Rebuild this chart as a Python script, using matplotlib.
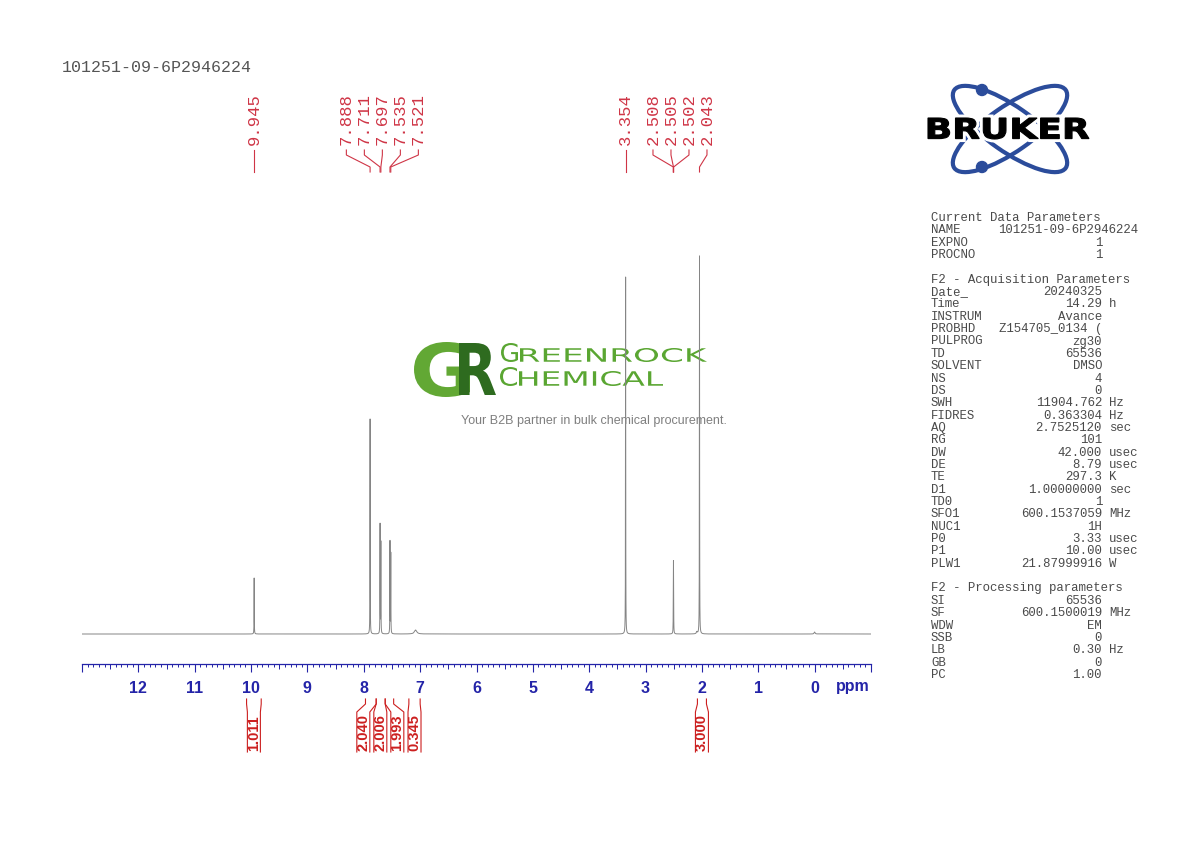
import numpy as np
import matplotlib
matplotlib.use("Agg")
import matplotlib.pyplot as plt
from matplotlib.patches import Ellipse, Circle, PathPatch
from matplotlib.textpath import TextPath
from matplotlib.font_manager import FontProperties
from matplotlib.transforms import Affine2D
from matplotlib.ticker import MultipleLocator, FixedLocator

sample_name = "101251-09-6P2946224"

# peaks: shift (ppm), height above baseline (px), half width (ppm)
peak_ppm = [9.945, 7.888, 7.711, 7.697, 7.535, 7.521, 7.08, 3.354,
            2.508, 2.505, 2.502, 2.043, 2.09, 0.0]
peak_height = [56, 215, 109, 91, 92, 80, 4, 357, 22, 60, 22, 378, 2, 2]
peak_width = [0.002, 0.002, 0.002, 0.002, 0.002, 0.002, 0.025, 0.002,
              0.002, 0.002, 0.002, 0.002, 0.01, 0.01]

# picked peaks (labels on top)
label_ppm = [9.945, 7.888, 7.711, 7.697, 7.535, 7.521, 3.354,
             2.508, 2.505, 2.502, 2.043]

# integrals
int_start = [10.08, 7.97, 7.78, 7.62, 7.20, 2.08]
int_end = [9.82, 7.78, 7.62, 7.47, 7.00, 1.92]
int_value = [1.011, 2.040, 2.006, 1.993, 0.345, 3.000]

tick_ppm = [13, 12, 11, 10, 9, 8, 7, 6, 5, 4, 3, 2, 1, 0, -1]
tick_text = ["", "12", "11", "10", "9", "8", "7", "6", "5", "4", "3", "2", "1", "0", ""]

# parameter panel
cur_names = ["NAME", "EXPNO", "PROCNO"]
cur_values = [sample_name, "1", "1"]
cur_units = ["", "", ""]

acq_names = ["Date_", "Time", "INSTRUM", "PROBHD", "PULPROG", "TD", "SOLVENT",
             "NS", "DS", "SWH", "FIDRES", "AQ", "RG", "DW", "DE", "TE", "D1",
             "TD0", "SFO1", "NUC1", "P0", "P1", "PLW1"]
acq_values = ["20240325", "14.29", "Avance", "Z154705_0134 (", "zg30", "65536",
              "DMSO", "4", "0", "11904.762", "0.363304", "2.7525120", "101",
              "42.000", "8.79", "297.3", "1.00000000", "1", "600.1537059",
              "1H", "3.33", "10.00", "21.87999916"]
acq_units = ["", "h", "", "", "", "", "", "", "", "Hz", "Hz", "sec", "",
             "usec", "usec", "K", "sec", "", "MHz", "", "usec", "usec", "W"]

proc_names = ["SI", "SF", "WDW", "SSB", "LB", "GB", "PC"]
proc_values = ["65536", "600.1500019", "EM", "0", "0.30", "0", "1.00"]
proc_units = ["", "MHz", "", "", "Hz", "", ""]

RED = "#cf3546"
IRED = "#cc1f1f"
BLUE = "#2424a8"
GRAY = "#4a4a4a"

fig = plt.figure(figsize=(11.9, 8.42), dpi=100)

# overlay in pixel coords of the page (y downwards)
ov = fig.add_axes([0, 0, 1, 1], zorder=0)
ov.set_xlim(0, 1190)
ov.set_ylim(842, 0)
ov.axis("off")


def fit_text(s, x0, y0, x1, y1, color, weight="bold", family="DejaVu Sans", **kw):
    """draw text s stretched into the box (x0,y0)-(x1,y1), page pixels"""
    path = TextPath((0, 0), s, size=50, prop=FontProperties(family=family, weight=weight))
    ext = path.get_extents()
    sx = (x1 - x0) / ext.width
    sy = (y1 - y0) / ext.height
    tr = Affine2D().translate(-ext.x0, -ext.y0).scale(sx, -sy).translate(x0, y1)
    p = PathPatch(tr.transform_path(path), fc=color, ec=kw.get("ec", "none"),
                  lw=kw.get("lw", 0), zorder=kw.get("zorder", 2))
    ov.add_patch(p)
    return p


ov.text(62, 68, sample_name, family="Liberation Mono", fontsize=12,
        color="#555555", va="center", ha="left")

# Bruker logo
logo_blue = "#2b4c9b"
for ang in (35, -35):
    ov.add_patch(Ellipse((1010, 129), 136, 45, angle=ang, fill=False,
                         ec=logo_blue, lw=3, zorder=1))
ov.add_patch(Circle((982, 90), 5.5, color=logo_blue, zorder=1))
ov.add_patch(Circle((982, 167), 5.5, color=logo_blue, zorder=1))
fit_text("BRUKER", 928, 118, 1089, 139, "white", ec="white", lw=5, zorder=2)
fit_text("BRUKER", 928, 118, 1089, 139, "black", ec="black", lw=0.8, zorder=3)

# Greenrock watermark
fit_text("G", 414, 342, 470, 397, "#62a834")
fit_text("R", 459, 343, 496, 395, "#2e6b1f")
fit_text("G", 501, 343, 518, 362, "#5aa632", weight="normal")
fit_text("REENROCK", 520, 348, 707, 362, "#5aa632", weight="normal")
fit_text("C", 500, 367, 517, 386, "#5aa632", weight="normal")
fit_text("HEMICAL", 519, 371, 663, 386, "#5aa632", weight="normal")
ov.text(594, 421, "Your B2B partner in bulk chemical procurement.",
        family="Liberation Sans", fontsize=9, color="#7f7f7f",
        ha="center", va="center")

# parameter panel
row_y0, row_dy = 218, 12.35
rows = [("Current Data Parameters", None, None)]
rows += list(zip(cur_names, cur_values, cur_units))
rows += [None, ("F2 - Acquisition Parameters", None, None)]
rows += list(zip(acq_names, acq_values, acq_units))
rows += [None, ("F2 - Processing parameters", None, None)]
rows += list(zip(proc_names, proc_values, proc_units))
mono = dict(family="Liberation Mono", fontsize=8.9, color=GRAY, va="center")
for i, r in enumerate(rows):
    if r is None:
        continue
    y = row_y0 + i * row_dy
    name, val, unit = r
    ov.text(931, y, name, ha="left", **mono)
    if val is None:
        continue
    if len(val) > 15:
        ov.text(998, y, val, ha="left", **mono)
    else:
        ov.text(1102, y, val, ha="right", **mono)
    if unit:
        ov.text(1109, y, unit, ha="left", **mono)

# spectrum axes: x in ppm, y in pixels above the baseline
x_left, x_right = 82, 871
ppm_hi, ppm_lo = 13, -1
scale = (x_right - x_left) / (ppm_hi - ppm_lo)


def ppm2px(p):
    return x_left + (ppm_hi - p) * scale


def px2ppm(x):
    return ppm_hi - (x - x_left) / scale


ax = fig.add_axes([x_left / 1190, (842 - 664) / 842, (x_right - x_left) / 1190, 664 / 842],
                  zorder=1)
ax.patch.set_visible(False)
ax.set_xlim(ppm_hi, ppm_lo)
ax.set_ylim(-30, 634)

x = np.union1d(np.linspace(ppm_lo, ppm_hi, 40000), peak_ppm)
y = np.zeros_like(x)
for p, h, w in zip(peak_ppm, peak_height, peak_width):
    y += h / (1 + ((x - p) / w) ** 2)
ax.plot(x, y, color="#858585", lw=0.7)

for s in ("top", "left", "right"):
    ax.spines[s].set_visible(False)
ax.spines["bottom"].set_color(BLUE)
ax.spines["bottom"].set_linewidth(0.9)
ax.set_yticks([])
ax.xaxis.set_major_locator(FixedLocator(tick_ppm))
ax.set_xticklabels(tick_text)
ax.xaxis.set_minor_locator(MultipleLocator(0.1))
ax.tick_params(axis="x", which="major", direction="out", length=6, width=0.8,
               color=BLUE, labelcolor=BLUE, pad=6.5, labelsize=11.5)
ax.tick_params(axis="x", which="minor", direction="out", length=2.5, width=0.7, color=BLUE)
for lab in ax.get_xticklabels():
    lab.set_family("Liberation Sans")
    lab.set_fontweight("bold")
halves = np.arange(12.5, -1, -1.0)
ax.vlines(halves, -30, -34.5, color=BLUE, lw=0.7, clip_on=False)
ax.text(px2ppm(853), -52, "ppm", family="Liberation Sans", fontweight="bold",
        fontsize=11.5, color=BLUE, ha="center", va="center", clip_on=False)


def spread(centers, gap):
    groups = [[c] for c in centers]
    changed = True
    while changed:
        changed = False
        for i in range(len(groups) - 1):
            a, b = groups[i], groups[i + 1]
            a_last = np.mean(a) + gap * (len(a) - 1) / 2
            b_first = np.mean(b) - gap * (len(b) - 1) / 2
            if b_first - a_last < gap:
                groups[i] = a + b
                del groups[i + 1]
                changed = True
                break
    out = []
    for g in groups:
        m, n = np.mean(g), len(g)
        out += [m + gap * (k - (n - 1) / 2) for k in range(n)]
    return out


# peak labels with the connecting tree
lab_px = spread([ppm2px(p) for p in label_ppm], 18)
for p, lx in zip(label_ppm, lab_px):
    lp = px2ppm(lx)
    ax.plot([lp, lp, p, p], [484, 479, 467, 462], color=RED, lw=0.8)
    ax.text(lp, 489, f"{p:.3f}", rotation=90, ha="center", va="bottom",
            family="Liberation Mono", fontsize=12.4, color=RED)

# integrals below the axis
centers = [ppm2px((s + e) / 2) for s, e in zip(int_start, int_end)]
int_px = spread(centers, 17)
for s, e, v, lx in zip(int_start, int_end, int_value, int_px):
    for edge, box in ((ppm2px(s), lx - 6.5), (ppm2px(e), lx + 6.5)):
        ax.plot([px2ppm(edge), px2ppm(edge), px2ppm(box), px2ppm(box)],
                [-65, -70, -78, -118], color=IRED, lw=0.8, clip_on=False)
    ax.text(px2ppm(lx), -117, f"{v:.3f}", rotation=90, ha="center", va="bottom",
            family="Liberation Sans", fontweight="bold", fontsize=10.5,
            color=IRED, clip_on=False)

fig.savefig("out.png", dpi=100)
